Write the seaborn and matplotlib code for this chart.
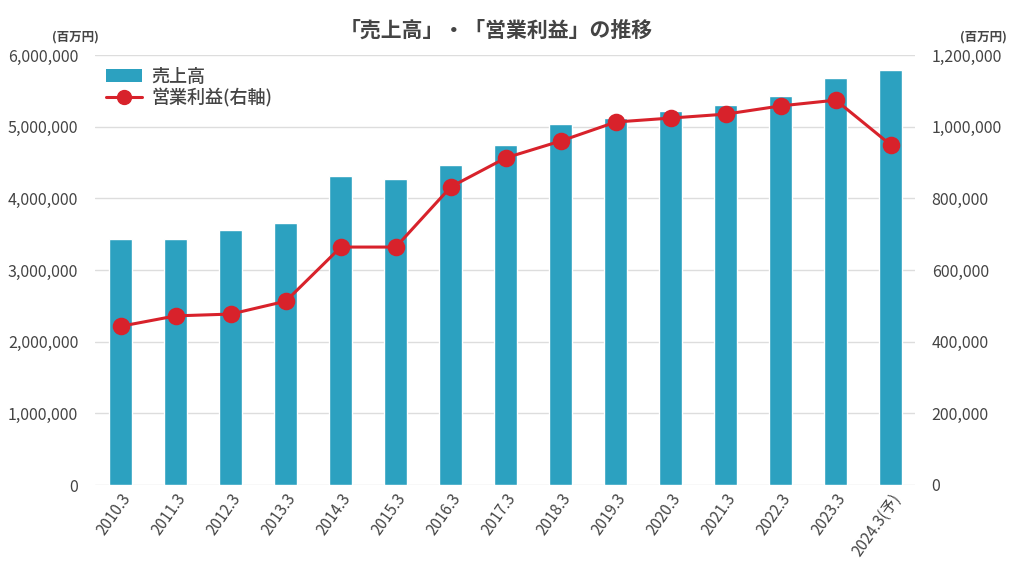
import pandas as pd
import seaborn as sns
import matplotlib.pyplot as plt
from matplotlib.lines import Line2D
from matplotlib.patches import Patch
from matplotlib.ticker import FuncFormatter

# Data (million yen)
years = ['2010.3', '2011.3', '2012.3', '2013.3', '2014.3', '2015.3', '2016.3', '2017.3',
         '2018.3', '2019.3', '2020.3', '2021.3', '2022.3', '2023.3', '2024.3(予)']
sales = [3430000, 3430000, 3560000, 3660000, 4310000, 4270000, 4470000, 4740000,
         5040000, 5120000, 5220000, 5300000, 5430000, 5680000, 5790000]
profit = [443000, 472000, 477000, 513000, 664000, 664000, 832000, 913000,
          960000, 1013000, 1024000, 1035000, 1058000, 1074000, 949000]

df = pd.DataFrame({'Year': years, 'Sales': sales, 'Profit': profit})

bar_color = '#2ca1c0'
line_color = '#d8222b'
text_color = '#444444'

sns.set_style('white')
plt.rcParams['font.family'] = ['Noto Sans CJK JP', 'DejaVu Sans']

fig = plt.figure(figsize=(10.24, 5.81), dpi=100)
ax = fig.add_axes([95 / 1024, 1 - 485 / 581, 820 / 1024, 430 / 581])

sns.barplot(x='Year', y='Sales', data=df, color=bar_color, width=0.42,
            saturation=1, ax=ax)
ax.set_ylim(0, 6000000)
ax.set_yticks(range(0, 6000001, 1000000))
ax.yaxis.set_major_formatter(FuncFormatter(lambda v, p: f'{int(v):,}'))
ax.grid(axis='y', color='#dddddd', linewidth=1)
ax.set_axisbelow(True)
ax.set_xlabel('')
ax.set_ylabel('')

ax2 = ax.twinx()
sns.pointplot(x='Year', y='Profit', data=df, color=line_color, markersize=11,
              linewidth=2.2, ax=ax2)
ax2.set_ylim(0, 1200000)
ax2.set_yticks(range(0, 1200001, 200000))
ax2.yaxis.set_major_formatter(FuncFormatter(lambda v, p: f'{int(v):,}'))
ax2.set_ylabel('')
ax2.set_xlabel('')

ax.set_xlim(-0.47, 14.44)
ax2.set_xlim(-0.47, 14.44)

for a in (ax, ax2):
    for s in a.spines.values():
        s.set_visible(False)
    a.tick_params(axis='y', length=0, labelsize=11.5, labelcolor=text_color, pad=12)

ax.tick_params(axis='x', length=0, labelsize=11, labelcolor=text_color, pad=4)
for lbl in ax.get_xticklabels():
    lbl.set_rotation(55)
    lbl.set_ha('right')
    lbl.set_rotation_mode('anchor')

# Unit labels
fig.text(52 / 1024, 1 - 37 / 581, '(百万円)', fontsize=9, color=text_color,
         fontweight='bold', va='center')
fig.text(960 / 1024, 1 - 37 / 581, '(百万円)', fontsize=9, color=text_color,
         fontweight='bold', va='center')

fig.suptitle('「売上高」・「営業利益」の推移', x=0.485, y=1 - 30 / 581, va='center',
             fontsize=15, fontweight='bold', color=text_color)

handles = [Patch(facecolor=bar_color, edgecolor='none'),
           Line2D([0], [0], color=line_color, linewidth=2.2, marker='o', markersize=10)]
ax.legend(handles, ['売上高', '営業利益(右軸)'], loc='upper left',
          bbox_to_anchor=(0.0, 0.995), frameon=False,
          prop={'size': 13, 'weight': 'medium'},
          labelcolor=text_color, handlelength=2.0, handletextpad=0.5,
          borderaxespad=0.2, labelspacing=0.15)

fig.savefig('out.png', dpi=100)
